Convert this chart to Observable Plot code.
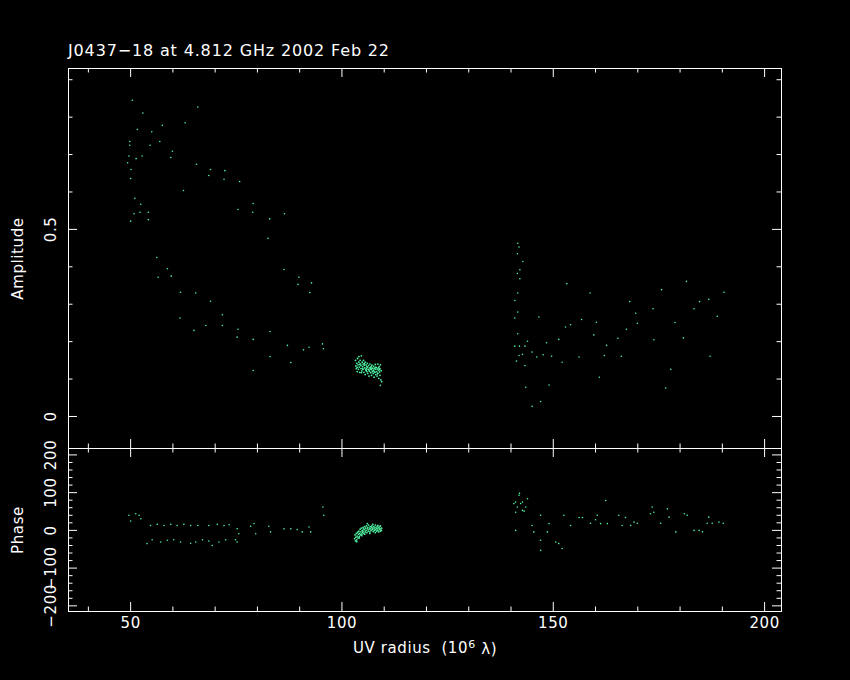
<!DOCTYPE html>
<html>
<head>
<meta charset="utf-8">
<script src="https://cdn.jsdelivr.net/npm/d3@7"></script>
<script src="https://cdn.jsdelivr.net/npm/@observablehq/plot@0.6"></script>
<style>
  html, body { margin: 0; padding: 0; background: #000; }
  #wrap { width: 850px; background: #000; }
  #title { position: relative; height: 60px; }
  #title span { position: absolute; left: 68px; top: 43px; font: 16px "DejaVu Sans", sans-serif; letter-spacing: 0.85px; color: #fff; line-height: 16px; white-space: nowrap; }
  svg { display: block; }
  svg text { letter-spacing: 0.6px; }
</style>
</head>
<body>
<div id="wrap">
  <div id="title"><span>J0437−18 at 4.812 GHz 2002 Feb 22</span></div>
  <div id="amp"></div>
  <div id="phs"></div>
</div>
<script>
// ---- axis settings / tick values ----
const uvDomain = [35.3, 204.0];
const ampDomain = [-0.0856, 0.930];
const phaseDomain = [-215, 217];
const uvMajor = [50, 100, 150, 200];
const uvMinor = [40, 60, 70, 80, 90, 110, 120, 130, 140, 160, 170, 180, 190];
const uvTickLabels = ["50", "100", "150", "200"];
const ampMajor = [0, 0.5];
const ampMinor = [0.1, 0.2, 0.3, 0.4, 0.6, 0.7, 0.8, 0.9];
const ampTickLabels = ["0", "0.5"];
const phaseMajor = [-200, -100, 0, 100, 200];
const phaseMinor = [-180, -160, -140, -120, -80, -60, -40, -20, 20, 40, 60, 80, 120, 140, 160, 180];
const phaseTickLabels = ["−200", "−100", "0", "100", "200"];
const xLabelParts = ["UV radius\u00a0\u00a0(10", "6", "\u00a0λ)"];

// ---- amplitude data (UV radius in 10^6 lambda, amplitude) ----
const ampUV = [50.4, 52.9, 65.9, 57.5, 62.9, 51.6, 55.0, 56.9, 49.8, 49.8, 54.6, 59.9, 59.5, 49.6, 51.3, 52.7, 49.3, 65.6, 50.1, 68.9,
  68.5, 72.3, 72.1, 75.8, 50.0, 62.5, 51.0, 52.4, 50.8, 52.2, 54.2, 50.0, 54.2, 75.4, 79.0, 78.9, 82.9, 86.4, 82.5, 56.2,
  56.5, 58.7, 59.6, 61.8, 65.4, 68.9, 61.7, 67.8, 71.7, 71.7, 65.0, 75.4, 75.2, 79.0, 83.0, 86.3, 89.8, 89.6, 92.8, 92.4,
  87.1, 90.9, 92.2, 95.4, 95.6, 83.0, 87.9, 79.0, 109.1,
  141.6, 141.9, 141.5, 142.8, 142.1, 141.5, 142.1, 141.6, 140.9, 141.6, 140.9, 141.6, 140.9, 142.0, 143.3, 143.9, 141.9, 142.7, 143.3, 141.3,
  145.0, 146.1, 147.6, 149.6, 146.6, 148.4, 151.3, 153.2, 152.9, 154.1, 156.7, 152.1, 156.1, 158.7, 160.2, 159.6, 162.6, 162.1, 160.9, 149.0,
  143.5, 145.0, 147.0, 165.3, 166.1, 167.3, 168.1, 169.5, 169.9, 173.6, 173.8, 175.6, 177.8, 176.6, 178.8, 180.8, 181.5, 183.3, 184.6, 186.8,
  188.8, 187.1, 190.4];
const ampVal = [0.845, 0.811, 0.827, 0.778, 0.785, 0.767, 0.761, 0.735, 0.735, 0.725, 0.725, 0.709, 0.692, 0.696, 0.689, 0.696, 0.678, 0.674, 0.660, 0.660,
  0.644, 0.657, 0.634, 0.628, 0.636, 0.604, 0.583, 0.567, 0.542, 0.546, 0.546, 0.522, 0.526, 0.553, 0.569, 0.546, 0.528, 0.542, 0.476, 0.425,
  0.372, 0.395, 0.375, 0.332, 0.330, 0.308, 0.263, 0.243, 0.272, 0.243, 0.230, 0.233, 0.212, 0.206, 0.227, 0.393, 0.372, 0.353, 0.357, 0.331,
  0.190, 0.178, 0.185, 0.194, 0.181, 0.160, 0.144, 0.123, 0.083,
  0.463, 0.453, 0.435, 0.414, 0.392, 0.382, 0.368, 0.330, 0.310, 0.279, 0.263, 0.221, 0.188, 0.188, 0.188, 0.201, 0.163, 0.166, 0.136, 0.148,
  0.172, 0.159, 0.165, 0.161, 0.266, 0.197, 0.206, 0.355, 0.239, 0.245, 0.259, 0.145, 0.159, 0.330, 0.252, 0.218, 0.190, 0.163, 0.105, 0.084,
  0.078, 0.027, 0.040, 0.209, 0.161, 0.233, 0.307, 0.276, 0.249, 0.288, 0.205, 0.339, 0.126, 0.076, 0.251, 0.210, 0.361, 0.288, 0.307, 0.313,
  0.268, 0.161, 0.332];
// dense group near 103-109
const ampClusterUV = [103.2, 103.3, 103.4, 103.5, 103.6, 103.7, 103.8, 103.9, 104.0, 104.0, 104.1, 104.2, 104.3, 104.4, 104.5, 104.5, 104.6, 104.7, 104.8, 104.9,
  105.0, 105.0, 105.1, 105.2, 105.3, 105.4, 105.5, 105.5, 105.6, 105.7, 105.8, 105.9, 106.0, 106.0, 106.1, 106.2, 106.3, 106.4, 106.5, 106.5,
  106.6, 106.7, 106.8, 106.9, 107.0, 107.0, 107.1, 107.2, 107.3, 107.4, 107.5, 107.5, 107.6, 107.7, 107.8, 107.9, 108.0, 108.0, 108.1, 108.2,
  108.3, 108.4, 108.5, 108.5, 108.6, 108.7, 108.8, 108.9, 109.0, 109.0, 109.1, 109.2, 109.3, 109.4,
  103.6, 104.2, 104.9, 105.3, 105.9, 106.4, 106.9, 107.4, 107.9, 108.4, 108.9, 104.6, 105.7, 106.8, 107.7, 108.6];
const ampClusterVal = [0.150, 0.135, 0.128, 0.142, 0.120, 0.155, 0.138, 0.126, 0.160, 0.145, 0.132, 0.118, 0.150, 0.140, 0.128, 0.136, 0.162, 0.122, 0.145, 0.133,
  0.140, 0.126, 0.150, 0.118, 0.137, 0.130, 0.145, 0.112, 0.125, 0.138, 0.128, 0.120, 0.142, 0.132, 0.115, 0.126, 0.136, 0.108, 0.130, 0.121,
  0.140, 0.127, 0.117, 0.133, 0.125, 0.110, 0.137, 0.120, 0.129, 0.115, 0.134, 0.124, 0.105, 0.128, 0.118, 0.139, 0.126, 0.112, 0.131, 0.120,
  0.108, 0.127, 0.140, 0.116, 0.124, 0.102, 0.133, 0.119, 0.128, 0.110, 0.138, 0.098, 0.122, 0.093,
  0.131, 0.139, 0.128, 0.141, 0.133, 0.124, 0.129, 0.122, 0.131, 0.114, 0.125, 0.117, 0.123, 0.130, 0.119, 0.130];

// ---- phase data (UV radius, phase in degrees) ----
const phaseUV = [49.6, 50.0, 52.0, 52.4, 51.2, 54.7, 56.3, 57.9, 59.5, 61.0, 62.6, 64.2, 65.9, 68.5, 70.5, 72.1, 73.3, 75.2, 75.6, 78.4,
  79.6, 79.2, 82.7, 83.1, 86.3, 87.9, 89.4, 90.6, 92.2, 92.6, 95.5, 95.7,
  53.9, 55.1, 57.1, 58.7, 60.2, 61.8, 64.2, 65.4, 67.0, 68.5, 69.3, 70.9, 72.5, 74.8, 75.2,
  142.0, 141.1, 142.3, 141.5, 143.5, 143.9, 142.7, 141.1, 141.9, 140.7, 143.1, 142.7, 141.1,
  147.0, 145.0, 145.4, 149.0, 148.6, 147.0, 147.0, 150.6, 151.3, 152.1, 152.5, 154.1, 156.1, 156.9, 158.8, 160.0, 160.4, 161.2, 162.4, 162.8,
  165.5, 167.1, 166.3, 168.3, 169.1, 169.9, 173.4, 173.0, 173.8, 175.4, 177.0, 177.4, 179.0, 181.0, 181.7, 183.3, 184.5, 185.3, 186.8, 186.4,
  187.6, 189.2, 190.2];
const phaseVal = [40, 25, 40, 31, 44, 13, 16, 13, 16, 13, 16, 13, 13, 13, 16, 13, 15, 4, -9, 11,
  -9, 18, 11, -4, 4, 4, 2, -4, 9, -4, 62, 40,
  -35, -25, -31, -26, -25, -31, -34, -31, -25, -28, -40, -31, -25, -25, -31,
  98, 75, 71, 62, 62, 84, 53, 48, 93, 71, 51, 75, 0,
  40, 13, -4, 18, -4, -26, -53, -31, -35, -48, 40, 13, 34, 34, 19, 28, 40, 18, 79, 18,
  40, 34, 13, 13, 22, 19, 62, 44, 48, 19, 57, 35, -4, 44, 40, 0, 0, -4, 35, 19,
  19, 22, 19];
const phaseClusterUV = [103.0, 103.1, 103.2, 103.3, 103.4, 103.5, 103.6, 103.7, 103.8, 103.9, 104.0, 104.1, 104.2, 104.3, 104.4, 104.5, 104.6, 104.7, 104.8, 104.9,
  105.0, 105.0, 105.1, 105.2, 105.3, 105.4, 105.5, 105.6, 105.7, 105.8, 105.9, 106.0, 106.1, 106.2, 106.3, 106.4, 106.5, 106.6, 106.7, 106.8,
  106.9, 107.0, 107.1, 107.2, 107.3, 107.4, 107.5, 107.6, 107.7, 107.8, 107.9, 108.0, 108.1, 108.2, 108.3, 108.4, 108.5, 108.6, 108.7, 108.8,
  108.9, 109.0, 109.1, 109.2, 109.3, 109.4,
  103.5, 104.1, 104.7, 105.4, 106.0, 106.6, 107.3, 107.9, 108.5, 109.1];
const phaseClusterVal = [-22, -12, -28, -18, -8, -25, -15, -5, -20, -10, -2, -16, -8, 3, -12, -4, 6, -10, 0, -6,
  8, -2, 4, -8, 2, 10, -4, 6, 0, 12, -6, 4, 8, -2, 14, 2, 6, -4, 10, 4,
  0, 8, 12, 2, 6, -3, 10, 4, 0, 8, 14, 2, 6, -2, 10, 4, 0, 8, -4, 6,
  2, 10, -2, 4, 0, 6,
  -30, -20, -14, -10, 18, -8, 16, -6, 13, 12];

// ---- build tables ----
const ampData = ampUV.map((u, i) => ({uv: u, v: ampVal[i]}));
const ampCluster = ampClusterUV.map((u, i) => ({uv: u, v: ampClusterVal[i]}));
const phaseData = phaseUV.map((u, i) => ({uv: u, v: phaseVal[i]}));
const phaseCluster = phaseClusterUV.map((u, i) => ({uv: u, v: phaseClusterVal[i]}));

const W = 850, ML = 68, MR = 69;
const innerW = W - ML - MR;
const MAJ = 9, MIN = 4.5;
const fg = "#ffffff";
const ptColor = "#4ff0a0";
const font = {fontFamily: "'DejaVu Sans', sans-serif", background: "#000", color: fg, overflow: "visible"};

function frameTicks(innerH, yMajor, yMinor) {
  const marks = [];
  for (const [vals, len] of [[uvMajor, MAJ], [uvMinor, MIN]]) {
    marks.push(Plot.tickX(vals, {x: d => d, stroke: fg, insetTop: innerH - len}));
    marks.push(Plot.tickX(vals, {x: d => d, stroke: fg, insetBottom: innerH - len}));
  }
  for (const [vals, len] of [[yMajor, MAJ], [yMinor, MIN]]) {
    marks.push(Plot.tickY(vals, {y: d => d, stroke: fg, insetRight: innerW - len}));
    marks.push(Plot.tickY(vals, {y: d => d, stroke: fg, insetLeft: innerW - len}));
  }
  return marks;
}

// ---- amplitude panel ----
const ampH = 388, ampMT = 8, ampMB = 0;
const ampPlot = Plot.plot({
  width: W, height: ampH,
  marginLeft: ML, marginRight: MR, marginTop: ampMT, marginBottom: ampMB,
  style: font,
  x: {domain: uvDomain, axis: null},
  y: {domain: ampDomain, axis: null},
  marks: [
    Plot.dot(ampData, {x: "uv", y: "v", r: 0.8, fill: ptColor, stroke: null, clip: true}),
    Plot.dot(ampCluster, {x: "uv", y: "v", r: 0.9, fill: ptColor, stroke: null, clip: true}),
    Plot.frame({stroke: fg, strokeWidth: 1}),
    ...frameTicks(ampH - ampMT - ampMB, ampMajor, ampMinor),
    Plot.text(ampMajor, {y: d => d, text: (d, i) => ampTickLabels[i], frameAnchor: "left", rotate: -90, textAnchor: "middle", dx: -17, fill: fg, fontSize: 15}),
    Plot.text(["Amplitude"], {text: d => d, frameAnchor: "left", rotate: -90, textAnchor: "middle", dx: -50, fill: fg, fontSize: 15})
  ]
});
document.getElementById("amp").appendChild(ampPlot);

// ---- phase panel ----
const phH = 232, phMT = 0, phMB = 69;
const phPlot = Plot.plot({
  width: W, height: phH,
  marginLeft: ML, marginRight: MR, marginTop: phMT, marginBottom: phMB,
  style: font,
  x: {domain: uvDomain, axis: null},
  y: {domain: phaseDomain, axis: null},
  marks: [
    Plot.dot(phaseData, {x: "uv", y: "v", r: 0.8, fill: ptColor, stroke: null, clip: true}),
    Plot.dot(phaseCluster, {x: "uv", y: "v", r: 0.9, fill: ptColor, stroke: null, clip: true}),
    Plot.frame({stroke: fg, strokeWidth: 1}),
    ...frameTicks(phH - phMT - phMB, phaseMajor, phaseMinor),
    Plot.text(phaseMajor, {y: d => d, text: (d, i) => phaseTickLabels[i], frameAnchor: "left", rotate: -90, textAnchor: "middle", dx: -17, fill: fg, fontSize: 15}),
    Plot.text(["Phase"], {text: d => d, frameAnchor: "left", rotate: -90, textAnchor: "middle", dx: -50, fill: fg, fontSize: 15}),
    Plot.text(uvMajor, {x: d => d, text: (d, i) => uvTickLabels[i], frameAnchor: "bottom", dy: 16, fill: fg, fontSize: 15}),
    Plot.text([xLabelParts.join("")], {text: d => d, frameAnchor: "bottom", dy: 41, fill: fg, fontSize: 15, className: "xlabel"})
  ]
});
document.getElementById("phs").appendChild(phPlot);

// render the exponent as a raised, smaller tspan
d3.select(phPlot).selectAll("g.xlabel text").each(function() {
  const t = d3.select(this);
  t.text(null);
  t.append("tspan").text(xLabelParts[0]);
  t.append("tspan").attr("dy", "-0.45em").attr("font-size", 11).text(xLabelParts[1]);
  t.append("tspan").attr("dy", "0.45em").text(xLabelParts[2]);
});
</script>
</body>
</html>
